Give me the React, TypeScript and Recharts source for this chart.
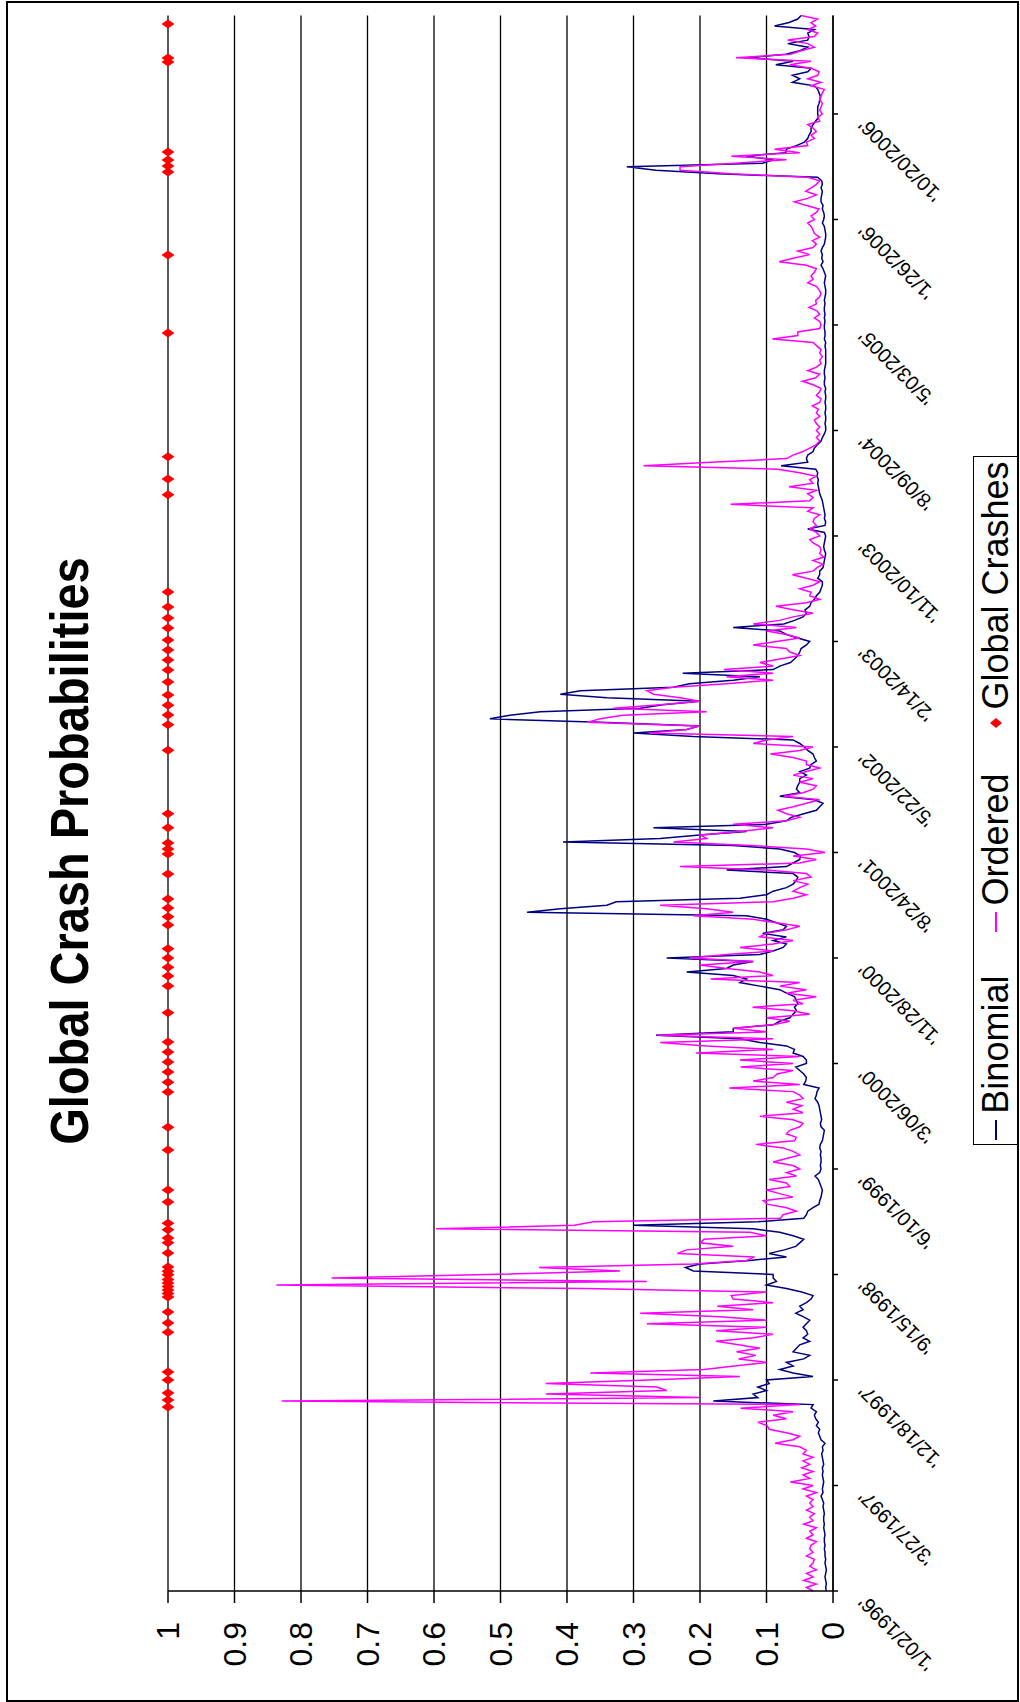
import { ComposedChart, Line, Scatter, XAxis, YAxis, CartesianGrid } from "recharts";

// category labels, one every 30 points
const dateLabels = [
  "'1/02/1996'", "'3/27/1997'", "'12/18/1997'", "'9/15/1998'", "'6/10/1999'",
  "'3/06/2000'", "'11/28/2000'", "'8/24/2001'", "'5/22/2002'", "'2/14/2003'",
  "'11/10/2003'", "'8/09/2004'", "'5/03/2005'", "'1/26/2006'", "'10/20/2006'",
];
const dateTicks = [0, 30, 60, 90, 120, 150, 180, 210, 240, 270, 300, 330, 360, 390, 420];
const valueTicks = [0, 0.1, 0.2, 0.3, 0.4, 0.5, 0.6, 0.7, 0.8, 0.9, 1];

const binomial = [
  0.010, 0.011, 0.010, 0.011, 0.012, 0.011, 0.010, 0.011, 0.012, 0.011,
  0.012, 0.012, 0.013, 0.012, 0.013, 0.013, 0.012, 0.013, 0.014, 0.013,
  0.014, 0.014, 0.013, 0.014, 0.015, 0.014, 0.016, 0.018, 0.015, 0.016,
  0.015, 0.014, 0.015, 0.016, 0.015, 0.016, 0.014, 0.015, 0.016, 0.017,
  0.015, 0.016, 0.012, 0.018, 0.020, 0.022, 0.020, 0.025, 0.022, 0.026,
  0.028, 0.025, 0.033, 0.030, 0.180, 0.113, 0.120, 0.100, 0.113, 0.096,
  0.100, 0.030, 0.060, 0.080, 0.060, 0.070, 0.044, 0.035, 0.060, 0.055,
  0.050, 0.035, 0.045, 0.038, 0.040, 0.045,
  0.040, 0.035, 0.045, 0.056,
  0.045, 0.050, 0.040, 0.033, 0.030, 0.047, 0.070, 0.100, 0.085, 0.090,
  0.090, 0.210, 0.222, 0.200, 0.125, 0.070, 0.096, 0.073, 0.056, 0.050,
  0.044, 0.060, 0.080, 0.120, 0.300, 0.113, 0.044, 0.040, 0.038, 0.030,
  0.021, 0.020, 0.018, 0.017, 0.016, 0.018, 0.020, 0.022, 0.027, 0.020,
  0.018, 0.019, 0.018, 0.018, 0.019, 0.018, 0.020, 0.019, 0.016, 0.015,
  0.014, 0.013, 0.018, 0.019, 0.017, 0.018, 0.019, 0.020, 0.021, 0.023,
  0.027, 0.025, 0.024, 0.021, 0.044, 0.041, 0.040, 0.044, 0.050, 0.056,
  0.040, 0.040, 0.045, 0.060, 0.058, 0.070, 0.110, 0.140, 0.266, 0.150,
  0.150, 0.090, 0.080, 0.065, 0.060, 0.055, 0.058, 0.053, 0.055, 0.058,
  0.070, 0.080, 0.110, 0.140, 0.130, 0.150, 0.220, 0.160, 0.150, 0.120,
  0.250, 0.110, 0.090, 0.075, 0.070, 0.090, 0.070, 0.106, 0.075, 0.070,
  0.085, 0.100, 0.130, 0.460, 0.410, 0.340, 0.326, 0.140, 0.100, 0.090,
  0.070, 0.060, 0.055, 0.053, 0.060, 0.160, 0.070, 0.060, 0.050, 0.049,
  0.058, 0.080, 0.150, 0.406, 0.260, 0.200, 0.130, 0.270, 0.100, 0.070,
  0.063, 0.044, 0.025, 0.020,
  0.015, 0.028, 0.080, 0.050, 0.055, 0.053,
  0.050, 0.050, 0.040, 0.050, 0.035, 0.033, 0.025, 0.028, 0.030, 0.038,
  0.043, 0.050, 0.060, 0.210, 0.300, 0.220, 0.200, 0.350, 0.516, 0.486,
  0.440, 0.290, 0.256, 0.200, 0.340, 0.410, 0.380, 0.240, 0.216, 0.150,
  0.110, 0.226, 0.090, 0.080, 0.064, 0.058, 0.053, 0.050, 0.048, 0.040,
  0.035, 0.053, 0.070, 0.080, 0.150, 0.074, 0.058, 0.045, 0.040, 0.042,
  0.035, 0.033, 0.028, 0.025, 0.020, 0.018, 0.016, 0.016, 0.023, 0.020,
  0.020, 0.015, 0.014, 0.013, 0.012, 0.011, 0.013, 0.014,
  0.013, 0.012,
  0.011, 0.013, 0.038, 0.012, 0.011, 0.013, 0.012, 0.013, 0.014, 0.015,
  0.016, 0.018, 0.020, 0.021, 0.022, 0.023, 0.022, 0.024, 0.023, 0.026,
  0.078, 0.038, 0.040, 0.038, 0.030, 0.028, 0.023, 0.018, 0.016, 0.013,
  0.011, 0.011, 0.012, 0.011, 0.011, 0.012, 0.011, 0.011, 0.012, 0.011,
  0.011, 0.012, 0.011, 0.013, 0.013, 0.012, 0.013, 0.013, 0.012, 0.011,
  0.011, 0.011, 0.011, 0.011, 0.012, 0.011, 0.013, 0.012, 0.012, 0.013,
  0.013, 0.012, 0.013, 0.012, 0.013, 0.013, 0.012, 0.013, 0.012, 0.011,
  0.011, 0.012, 0.013, 0.012, 0.011, 0.013,
  0.015, 0.018, 0.015, 0.017,
  0.016, 0.018, 0.016, 0.013, 0.012, 0.011, 0.011, 0.012, 0.013, 0.016,
  0.014, 0.013, 0.014, 0.016, 0.015, 0.018, 0.018, 0.017, 0.016, 0.018,
  0.016, 0.017, 0.023, 0.173, 0.266, 0.310, 0.106, 0.090, 0.130, 0.071,
  0.070, 0.055, 0.043, 0.038, 0.036, 0.033, 0.033, 0.030, 0.026, 0.022,
  0.023, 0.023, 0.023, 0.021, 0.020, 0.019, 0.021, 0.023, 0.028, 0.061,
  0.050, 0.061, 0.038, 0.033, 0.086, 0.060, 0.128, 0.071, 0.050, 0.038,
  0.068, 0.038, 0.036, 0.038, 0.028, 0.088, 0.066, 0.053, 0.048,
];

const ordered = [
  0.030, 0.040, 0.025, 0.044, 0.030, 0.040, 0.025, 0.035, 0.030, 0.028,
  0.040, 0.030, 0.035, 0.033, 0.025, 0.040, 0.030, 0.035, 0.025, 0.044,
  0.030, 0.035, 0.028, 0.040, 0.030, 0.035, 0.030, 0.040, 0.025, 0.045,
  0.030, 0.064, 0.035, 0.045, 0.030, 0.047, 0.035, 0.045, 0.030, 0.045,
  0.040, 0.050, 0.087, 0.060, 0.050, 0.070, 0.096, 0.099, 0.113, 0.070,
  0.090, 0.060, 0.139, 0.050, 0.829, 0.200, 0.432, 0.250, 0.265, 0.432,
  0.277, 0.140, 0.365, 0.194, 0.148, 0.100, 0.142, 0.116, 0.145, 0.110,
  0.142, 0.176, 0.120, 0.090, 0.176, 0.100,
  0.280, 0.100, 0.170, 0.290,
  0.120, 0.174, 0.090, 0.150, 0.153, 0.100, 0.373, 0.837, 0.280, 0.754,
  0.520, 0.320, 0.442, 0.210, 0.130, 0.118, 0.234, 0.220, 0.150, 0.200,
  0.194, 0.100, 0.125, 0.597, 0.389, 0.360, 0.079, 0.075, 0.055, 0.070,
  0.099, 0.105, 0.060, 0.080, 0.100, 0.065, 0.070, 0.096, 0.055, 0.070,
  0.050, 0.060, 0.090, 0.070, 0.050, 0.060, 0.075, 0.116, 0.058, 0.055,
  0.070, 0.065, 0.050, 0.045, 0.060, 0.110, 0.045, 0.060, 0.047, 0.070,
  0.045, 0.050, 0.060, 0.156, 0.050, 0.120, 0.090, 0.084, 0.060, 0.139,
  0.060, 0.140, 0.050, 0.206, 0.090, 0.190, 0.260, 0.090, 0.264, 0.100,
  0.150, 0.090, 0.065, 0.100, 0.035, 0.060, 0.121, 0.045, 0.060, 0.025,
  0.070, 0.040, 0.080, 0.050, 0.184, 0.090, 0.110, 0.160, 0.200, 0.120,
  0.216, 0.160, 0.090, 0.140, 0.090, 0.060, 0.110, 0.100, 0.070, 0.050,
  0.085, 0.120, 0.210, 0.150, 0.190, 0.260, 0.090, 0.060, 0.040, 0.060,
  0.050, 0.038, 0.060, 0.033, 0.040, 0.100, 0.230, 0.050, 0.025, 0.060,
  0.012, 0.040, 0.124, 0.240, 0.190, 0.200, 0.140, 0.090, 0.150, 0.070,
  0.050, 0.070, 0.083, 0.060,
  0.040, 0.020, 0.074, 0.045, 0.030, 0.025,
  0.050, 0.030, 0.060, 0.040, 0.020, 0.040, 0.040, 0.060, 0.094, 0.050,
  0.030, 0.120, 0.100, 0.060, 0.276, 0.220, 0.200, 0.370, 0.350, 0.316,
  0.190, 0.330, 0.260, 0.200, 0.230, 0.270, 0.280, 0.240, 0.160, 0.090,
  0.160, 0.090, 0.164, 0.090, 0.110, 0.080, 0.050, 0.065, 0.070, 0.120,
  0.085, 0.050, 0.070, 0.100, 0.055, 0.120, 0.080, 0.060, 0.030, 0.060,
  0.086, 0.040, 0.020, 0.035, 0.033, 0.050, 0.030, 0.020, 0.040, 0.061,
  0.030, 0.024, 0.015, 0.030, 0.014, 0.020, 0.018, 0.020,
  0.030, 0.035,
  0.020, 0.025, 0.035, 0.025, 0.030, 0.028, 0.020, 0.038, 0.030, 0.154,
  0.035, 0.030, 0.038, 0.025, 0.066, 0.030, 0.035, 0.025, 0.050, 0.083,
  0.285, 0.184, 0.070, 0.060, 0.045, 0.035, 0.025, 0.020, 0.025, 0.020,
  0.025, 0.020, 0.025, 0.028, 0.020, 0.025, 0.022, 0.031, 0.020, 0.018,
  0.025, 0.020, 0.018, 0.030, 0.046, 0.026, 0.020, 0.038, 0.025, 0.018,
  0.020, 0.016, 0.020, 0.018, 0.024, 0.030, 0.091, 0.053, 0.053, 0.020,
  0.018, 0.020, 0.028, 0.020, 0.024, 0.036, 0.025, 0.026, 0.020, 0.018,
  0.021, 0.025, 0.038, 0.030, 0.033, 0.028,
  0.025, 0.040, 0.081, 0.060,
  0.035, 0.053, 0.030, 0.025, 0.031, 0.020, 0.028, 0.030, 0.033, 0.038,
  0.028, 0.033, 0.025, 0.021, 0.040, 0.058, 0.038, 0.025, 0.041, 0.033,
  0.025, 0.020, 0.038, 0.153, 0.230, 0.230, 0.148, 0.070, 0.153, 0.050,
  0.088, 0.038, 0.040, 0.028, 0.033, 0.025, 0.030, 0.038, 0.020, 0.023,
  0.016, 0.020, 0.018, 0.016, 0.020, 0.018, 0.016, 0.013, 0.033, 0.018,
  0.038, 0.023, 0.021, 0.033, 0.065, 0.033, 0.146, 0.064, 0.048, 0.028,
  0.038, 0.068, 0.028, 0.023, 0.038, 0.026, 0.033, 0.023, 0.048,
];

// positions (in points along the date axis) of the crash days
const crashes = [
  52.3, 54.3, 56.3, 60, 62.3, 73.6, 76.2, 79.3, 83.6, 84.6, 85.6, 86.6, 87.6, 88.6, 89.9,
  90.9, 92.1, 96.1, 99, 100.4, 102.7, 104.6, 110.6, 114, 125.4, 131.9, 141.9, 144.7,
  147.6, 150.4, 153.3, 156.1, 164.4, 172, 174.9, 177.4, 180, 182.6, 189.4, 191.7,
  194.2, 196.8, 203.9, 209.6, 211, 212.7, 217, 221, 239.1, 246.3, 249.1, 251.9,
  254.8, 258.5, 261.9, 264.7, 267.6, 270.4, 273.8, 276.7, 279.8, 284.1, 311.7,
  316.2, 322.5, 357.7, 379.9, 403.5, 405.2, 406.9, 409.2, 434.8, 435.9, 445.6,
];

const W = 1702;
const H = 1020;
const FONT = '"Liberation Sans", Arial, sans-serif';

const rows = binomial.map((b, i) => ({ i, binomial: b, ordered: ordered[i] }));
const crashRows = crashes.map((i) => ({ i, crash: 1 }));

const Diamond = (props: any) => {
  const { cx, cy } = props;
  if (cx == null || cy == null) return null;
  return (
    <polygon
      points={`${cx},${cy - 6.5} ${cx + 4.5},${cy} ${cx},${cy + 6.5} ${cx - 4.5},${cy}`}
      fill="#FF0000"
    />
  );
};

const DateTick = (props: any) => {
  const { x, y, payload } = props;
  const ax = x - 13;
  return (
    <text
      x={ax}
      y={y}
      dy={14}
      textAnchor="end"
      fontSize={20}
      fill="#000"
      transform={`rotate(-45, ${ax}, ${y})`}
    >
      {dateLabels[Math.round(payload.value / 30)]}
    </text>
  );
};

const LegendLine = ({ color }: { color: string }) => (
  <span style={{ display: "inline-block", width: 20, height: 2, background: color, marginRight: 6 }} />
);

export default function App() {
  return (
    <div style={{ position: "absolute", left: 0, top: 0, width: 1020, height: 1702, overflow: "hidden", background: "#fff" }}>
      <div
        style={{
          position: "absolute",
          left: 0,
          top: 0,
          width: W,
          height: H,
          transformOrigin: "0 0",
          transform: `translateY(${W}px) rotate(-90deg)`,
          fontFamily: FONT,
          background: "#fff",
        }}
      >
        <div style={{ position: "absolute", left: 0, top: 0 }}>
          <ComposedChart
            width={W}
            height={H}
            data={rows}
            margin={{ top: 168, right: 15.5, bottom: 157, left: 51 }}
          >
            <CartesianGrid vertical={false} stroke="#000" strokeWidth={1.3} />
            <XAxis
              type="number"
              dataKey="i"
              domain={[0, 448]}
              ticks={dateTicks}
              interval={0}
              height={30}
              tickSize={5}
              tickMargin={19}
              tick={<DateTick />}
              axisLine={{ stroke: "#000", strokeWidth: 1.5 }}
              tickLine={{ stroke: "#000", strokeWidth: 1.5 }}
            />
            <YAxis
              type="number"
              domain={[0, 1]}
              ticks={valueTicks}
              interval={0}
              width={60}
              tickSize={12}
              tickMargin={19}
              tick={{ fontSize: 32, fill: "#000", fontFamily: FONT }}
              tickFormatter={(v: number) => String(v)}
              axisLine={{ stroke: "#000", strokeWidth: 1.5 }}
              tickLine={{ stroke: "#000", strokeWidth: 1.5 }}
            />
            <Line
              type="linear"
              dataKey="binomial"
              stroke="#000080"
              strokeWidth={1.5}
              dot={false}
              activeDot={false}
              isAnimationActive={false}
            />
            <Line
              type="linear"
              dataKey="ordered"
              stroke="#FF00FF"
              strokeWidth={1.5}
              dot={false}
              activeDot={false}
              isAnimationActive={false}
            />
            <Scatter data={crashRows} dataKey="crash" shape={<Diamond />} isAnimationActive={false} />
          </ComposedChart>
        </div>
        <svg width={W} height={H} style={{ position: "absolute", left: 0, top: 0, pointerEvents: "none" }}>
          <rect x={1} y={7} width={1699} height={1011} fill="none" stroke="#000" strokeWidth={2} />
          <text
            transform="translate(851, 88) scale(1, 1.15)"
            textAnchor="middle"
            fontSize={47}
            fontWeight="bold"
            fill="#000"
            fontFamily={FONT}
          >
            Global Crash Probabilities
          </text>
        </svg>
        <div
          style={{
            position: "absolute",
            left: 557,
            top: 973,
            width: 689,
            height: 45,
            boxSizing: "border-box",
            border: "1.5px solid #000",
            background: "#fff",
            display: "flex",
            alignItems: "center",
            justifyContent: "center",
            gap: 44,
            fontSize: 36,
            color: "#000",
            whiteSpace: "nowrap",
          }}
        >
          <span style={{ display: "flex", alignItems: "center" }}>
            <LegendLine color="#000080" />
            Binomial
          </span>
          <span style={{ display: "flex", alignItems: "center" }}>
            <LegendLine color="#FF00FF" />
            Ordered
          </span>
          <span style={{ display: "flex", alignItems: "center" }}>
            <svg width={12} height={14} style={{ marginRight: 8 }}>
              <polygon points="6,1 11,7 6,13 1,7" fill="#FF0000" />
            </svg>
            Global Crashes
          </span>
        </div>
      </div>
    </div>
  );
}
